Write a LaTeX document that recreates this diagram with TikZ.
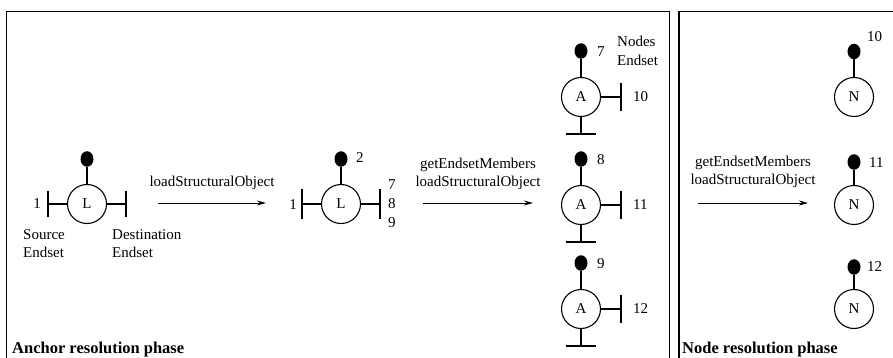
\documentclass[tikz,border=0pt]{standalone}
\usepackage{fontspec}
\setmainfont{Liberation Serif}
\usetikzlibrary{shapes.geometric,arrows.meta,calc}
\begin{document}
\begin{tikzpicture}[x=1pt,y={(0pt,-1pt)},
  every node/.style={font=\fontsize{15}{18.5}\selectfont},
  obj/.style={draw,circle,minimum size=39pt,inner sep=0pt,line width=1.1pt},
  blob/.style={ellipse,fill=black,minimum width=13pt,minimum height=15.5pt,inner sep=0pt},
  conn/.style={line width=1.1pt},
  frame/.style={line width=1.3pt},
  flow/.style={line width=1pt,-{Stealth[length=9pt,width=5pt]}},
  lbl/.style={inner sep=0pt},
  phase/.style={font=\fontsize{16.5}{19}\selectfont\bfseries,inner sep=0pt,anchor=base west}]
\useasboundingbox (0,0) rectangle (893,358);
% frames
\draw[frame] (6.5,358) -- (6.5,11.5) -- (669.5,11.5) -- (669.5,358);
\draw[frame] (679,358) -- (679,11.5) -- (893,11.5);
\node[phase] (ph1) at (12,353) {Anchor resolution phase};
\node[phase] (ph2) at (682,353) {Node resolution phase};

% link L1
\node[obj] (L1) at (87,204) {L};
\node[blob] (L1b) at (87,159) {};
\draw[conn] (L1b) -- (L1);
\coordinate (L1w) at (48,204);
\coordinate (L1e) at (126,204);
\draw[conn] (L1) -- (L1w);
\draw[conn] (L1) -- (L1e);
\draw[conn] ($(L1w)+(0,-13)$) -- ($(L1w)+(0,13)$);
\draw[conn] ($(L1e)+(0,-13)$) -- ($(L1e)+(0,13)$);
\node[lbl] (n1a) at (37,204) {1};
\node[lbl,anchor=north west,align=left] (src) at (23,229) {Source\\Endset};
\node[lbl,anchor=north west,align=left] (dst) at (112,229) {Destination\\Endset};

% arrow 1
\coordinate (a1s) at (158,203);
\coordinate (a1e) at (266,203);
\draw[flow] (a1s) -- (a1e);
\node[lbl] (t1) at (212,183) {loadStructuralObject};

% link L2
\node[obj] (L2) at (341,204) {L};
\node[blob] (L2b) at (341,159) {};
\draw[conn] (L2b) -- (L2);
\coordinate (L2w) at (302,204);
\coordinate (L2e) at (380,204);
\draw[conn] (L2) -- (L2w);
\draw[conn] (L2) -- (L2e);
\draw[conn] ($(L2w)+(0,-15)$) -- ($(L2w)+(0,15)$);
\draw[conn] ($(L2e)+(0,-15)$) -- ($(L2e)+(0,15)$);
\node[lbl] (n2a) at (293,205) {1};
\node[lbl,anchor=west] (n2b) at (356,158) {2};
\node[lbl,anchor=west] (n2c) at (388,185) {7};
\node[lbl,anchor=west] (n2d) at (388,204) {8};
\node[lbl,anchor=west] (n2e) at (388,223) {9};

% arrow 2
\coordinate (a2s) at (423,203);
\coordinate (a2e) at (533,203);
\draw[flow] (a2s) -- (a2e);
\node[lbl,align=center] (t2) at (478,174) {getEndsetMembers\\loadStructuralObject};

% anchors
\foreach \i/\y/\tp/\sd in {1/97/7/10, 2/205/8/11, 3/309/9/12} {
  \node[obj] (A\i) at (581,\y) {A};
  \node[blob] (Ab\i) at (581,\y-46) {};
  \draw[conn] (Ab\i) -- (A\i);
  \coordinate (Ae\i) at (621,\y);
  \coordinate (As\i) at (581,\y+37);
  \draw[conn] (A\i) -- (Ae\i);
  \draw[conn] (A\i) -- (As\i);
  \draw[conn] ($(Ae\i)+(0,-14)$) -- ($(Ae\i)+(0,14)$);
  \draw[conn] ($(As\i)+(-15,0)$) -- ($(As\i)+(15,0)$);
  \node[lbl,anchor=west] (At\i) at (597,\y-45) {\tp};
  \node[lbl,anchor=west] (Asd\i) at (633,\y) {\sd};
}
\node[lbl,anchor=west,align=left] (nodesend) at (617,51) {Nodes\\Endset};

% arrow 3
\coordinate (a3s) at (698,203);
\coordinate (a3e) at (808,203);
\draw[flow] (a3s) -- (a3e);
\node[lbl,align=center] (t3) at (753,172) {getEndsetMembers\\loadStructuralObject};

% nodes
\foreach \i/\y/\by in {1/97/51.5, 2/205/162, 3/309/267} {
  \node[obj] (N\i) at (854,\y) {N};
  \node[blob] (Nb\i) at (854,\by) {};
  \draw[conn] (Nb\i) -- (N\i);
}
\node[lbl,anchor=west] (Nt1) at (867,37) {10};
\node[lbl,anchor=west] (Nt2) at (869,163) {11};
\node[lbl,anchor=west] (Nt3) at (867,267) {12};
\end{tikzpicture}
\end{document}
